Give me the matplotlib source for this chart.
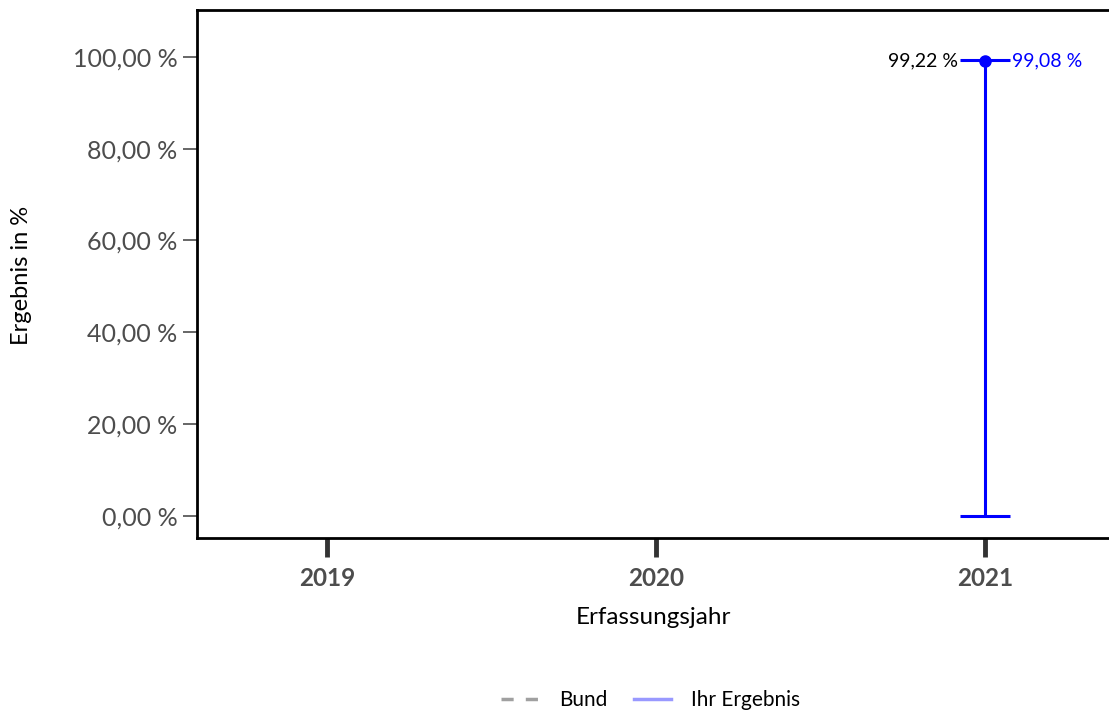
import matplotlib
matplotlib.use("Agg")
import matplotlib.pyplot as plt
from matplotlib.lines import Line2D

plt.rcParams['font.family'] = ['Lato', 'DejaVu Sans']

years = ["2019", "2020", "2021"]
ihr_years = ["2021"]
ihr_values = [99.08]
ci_lower = [0.0]
ci_upper = [99.22]
bund_years = ["2021"]
bund_values = [99.22]
y_ticks = [0, 20, 40, 60, 80, 100]
y_tick_labels = ["0,00 %", "20,00 %", "40,00 %", "60,00 %", "80,00 %", "100,00 %"]

W, H = 1109, 715
fig = plt.figure(figsize=(W / 100, H / 100), dpi=100)
ax = fig.add_axes([197 / W, 1 - 538 / H, (W - 197) / W, (538 - 10) / H])

xpos = {y: i for i, y in enumerate(years)}
blue = "#0000ff"

for yr, v, lo, hi in zip(ihr_years, ihr_values, ci_lower, ci_upper):
    x = xpos[yr]
    ax.errorbar([x], [v], yerr=[[v - lo], [hi - v]], fmt='o', color=blue,
                ecolor=blue, elinewidth=2.2, capsize=18, capthick=2.2,
                markersize=8, zorder=3)
    ax.text(x + 0.082, v, f"{v:.2f} %".replace('.', ','), color=blue,
            fontsize=14, va='center', ha='left')

for yr, v in zip(bund_years, bund_values):
    x = xpos[yr]
    ax.text(x - 0.082, v, f"{v:.2f} %".replace('.', ','), color='black',
            fontsize=14, va='center', ha='right')

ax.set_xlim(-0.395, 2.377)
ax.set_ylim(-4.8, 110.2)
ax.set_xticks(range(len(years)))
ax.set_xticklabels(years, fontsize=17.5, fontweight='bold', color='#4d4d4d')
ax.set_yticks(y_ticks)
ax.set_yticklabels(y_tick_labels, fontsize=18, color='#4d4d4d')
ax.tick_params(axis='x', length=14, width=3.5, color='#333333', pad=7)
ax.tick_params(axis='y', length=10, width=1.2, color='#4d4d4d', pad=4)

for s in ['left', 'bottom', 'top']:
    ax.spines[s].set_linewidth(2)
    ax.spines[s].set_color('black')
ax.spines['right'].set_visible(False)

ax.set_xlabel("Erfassungsjahr", fontsize=17.5, labelpad=12)
fig.text(22 / W, 1 - 275 / H, "Ergebnis in %", rotation=90, fontsize=17,
         ha='center', va='center')

handles = [Line2D([], [], color='#a0a0a0', lw=2.5, ls=(0, (3.5, 3.5))),
           Line2D([], [], color='#9999ff', lw=2.5)]
fig.legend(handles, ["Bund", "Ihr Ergebnis"], loc='center',
           bbox_to_anchor=(651 / W, 1 - 700 / H), ncol=2, frameon=False,
           fontsize=15, handlelength=1.75, columnspacing=1.3, handletextpad=1.0)

fig.savefig("out.png", dpi=100)
